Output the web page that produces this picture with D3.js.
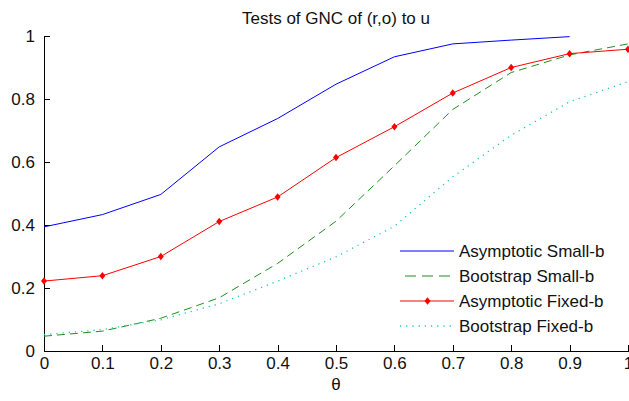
<!DOCTYPE html>
<html>
<head>
<meta charset="utf-8">
<script src="https://cdn.jsdelivr.net/npm/d3@7"></script>
<style>
  body { margin: 0; background: #fff; }
  svg { display: block; font-family: "Liberation Sans", Arial, sans-serif; }
</style>
</head>
<body>
<div id="chart"></div>
<script>
const theta = [0, 0.1, 0.2, 0.3, 0.4, 0.5, 0.6, 0.7, 0.8, 0.9, 1.0];
const asymSmall = [0.394, 0.433, 0.497, 0.648, 0.738, 0.847, 0.934, 0.975, 0.987, 0.998];
const bootSmall = [0.047, 0.063, 0.104, 0.169, 0.278, 0.412, 0.588, 0.767, 0.884, 0.940, 0.975];
const asymFixed = [0.222, 0.239, 0.300, 0.411, 0.489, 0.614, 0.712, 0.819, 0.900, 0.944, 0.958];
const bootFixed = [0.052, 0.068, 0.099, 0.150, 0.222, 0.299, 0.396, 0.553, 0.685, 0.791, 0.855];
const xTicks = [0, 0.1, 0.2, 0.3, 0.4, 0.5, 0.6, 0.7, 0.8, 0.9, 1];
const yTicks = [0, 0.2, 0.4, 0.6, 0.8, 1];

const series = [
  {name: 'Asymptotic Small-b', values: asymSmall, color: '#0000ff', dash: null, marker: false},
  {name: 'Bootstrap Small-b', values: bootSmall, color: '#1f8f1f', dash: '8,5', marker: false},
  {name: 'Asymptotic Fixed-b', values: asymFixed, color: '#ff0000', dash: null, marker: true},
  {name: 'Bootstrap Fixed-b', values: bootFixed, color: '#10c4c4', dash: '1.2,5', marker: false}
];

var W = 629, H = 401;
var margin = {top: 36, right: 1, bottom: 50, left: 44};
var width = W - margin.left - margin.right;
var height = H - margin.top - margin.bottom;

const svg = d3.select('#chart').append('svg')
  .attr('width', W)
  .attr('height', H);

const xScale = d3.scaleLinear().domain([0, 1]).range([0, width]);
const yScale = d3.scaleLinear().domain([0, 1]).range([height, 0]);

const plotArea = svg.append('g')
  .attr('transform', `translate(${margin.left}, ${margin.top})`);

const fmt = d => d === 0 || d === 1 ? String(d) : d3.format('.1f')(d);

const xAxis = plotArea.append('g')
  .attr('transform', `translate(0, ${height})`)
  .call(d3.axisBottom(xScale).tickValues(xTicks).tickFormat(fmt)
    .tickSizeInner(-6).tickSizeOuter(0).tickPadding(6));

const yAxis = plotArea.append('g')
  .call(d3.axisLeft(yScale).tickValues(yTicks).tickFormat(fmt)
    .tickSizeInner(-6).tickSizeOuter(0).tickPadding(9));

[xAxis, yAxis].forEach(a => {
  a.selectAll('path, line').attr('stroke', '#000').attr('shape-rendering', 'crispEdges');
  a.selectAll('text').attr('fill', '#111').style('font-size', '17px');
});

const line = d3.line()
  .x((d, i) => xScale(theta[i]))
  .y(d => yScale(d));

// small filled blob used as the red marker
const marker = d3.symbol(d3.symbolDiamond, 20);

series.forEach(s => {
  plotArea.append('path')
    .datum(s.values)
    .attr('fill', 'none')
    .attr('stroke', s.color)
    .attr('stroke-width', s.dash && s.dash.startsWith('1.2') ? 1.3 : 1)
    .attr('stroke-dasharray', s.dash)
    .attr('d', line);
  if (s.marker) {
    plotArea.append('g').selectAll('path')
      .data(s.values)
      .join('path')
        .attr('transform', (d, i) => `translate(${xScale(theta[i])}, ${yScale(d)}) scale(1.25, 0.9)`)
        .attr('d', marker)
        .attr('fill', s.color);
  }
});

svg.append('text')
  .attr('x', margin.left + width / 2)
  .attr('y', 24)
  .attr('text-anchor', 'middle')
  .style('font-size', '17px')
  .attr('fill', '#111')
  .text('Tests of GNC of (r,o) to u');

svg.append('text')
  .attr('x', margin.left + width / 2)
  .attr('y', 390)
  .attr('text-anchor', 'middle')
  .style('font-size', '17px')
  .attr('fill', '#111')
  .text('θ');

// legend
const legend = svg.append('g').attr('transform', 'translate(400, 251)');
const row = legend.selectAll('g')
  .data(series)
  .join('g')
    .attr('transform', (d, i) => `translate(0, ${i * 25})`);

row.append('line')
  .attr('x1', d => d.dash === '8,5' ? 5 : 0)
  .attr('x2', 54)
  .attr('stroke', d => d.color)
  .attr('stroke-width', d => d.dash && d.dash.startsWith('1.2') ? 1.3 : 1)
  .attr('stroke-dasharray', d => d.dash === '8,5' ? '11,6' : d.dash);

row.filter(d => d.marker).append('path')
  .attr('transform', 'translate(27.5, 0) scale(1.25, 0.9)')
  .attr('d', marker)
  .attr('fill', d => d.color);

row.append('text')
  .attr('x', 59)
  .attr('dy', '0.35em')
  .style('font-size', '17px')
  .attr('fill', '#111')
  .text(d => d.name);
</script>
</body>
</html>
